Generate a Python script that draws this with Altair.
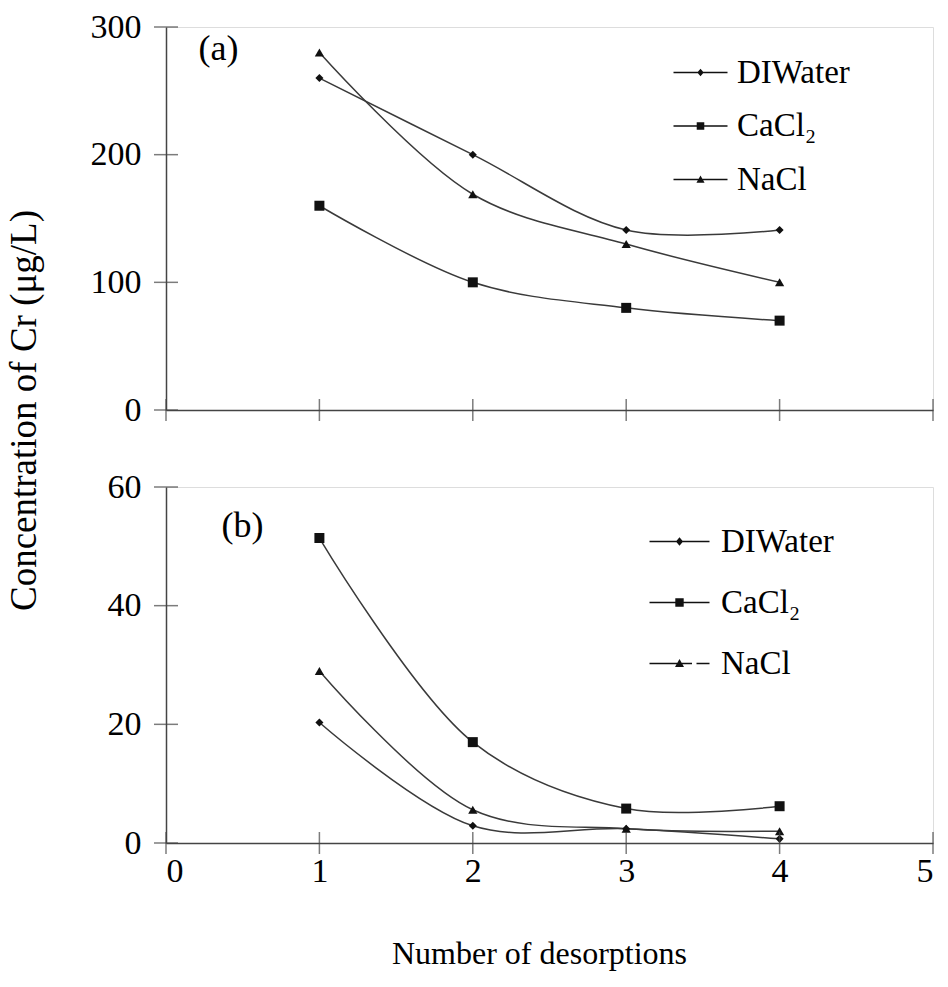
import altair as alt
import pandas as pd

# ---------------- data ----------------
desorptions = [1, 2, 3, 4]
series_names = ["DIWater", "CaCl₂", "NaCl"]

a_diwater = [260, 200, 141, 141]
a_cacl2 = [160, 100, 80, 70]
a_nacl = [280, 169, 130, 100]

b_diwater = [20.3, 2.9, 2.4, 0.7]
b_cacl2 = [51.4, 17.0, 5.8, 6.2]
b_nacl = [29.0, 5.6, 2.4, 2.0]

x_ticks = [0, 1, 2, 3, 4, 5]
a_y_ticks = [0, 100, 200, 300]
b_y_ticks = [0, 20, 40, 60]

FONT = "Liberation Serif"
AX = "#444444"
LINE = "#3a3a3a"
INK = "#111111"

marker_style = {
    "DIWater": ("diamond", 65),
    "CaCl₂": ("square", 100),
    "NaCl": ("triangle-up", 85),
}

# legend glyphs: a thin filled bar (the line) plus the marker
BAR = "M-3,-0.07L3,-0.07L3,0.07L-3,0.07Z"
BAR_DASHED = ("M-3,-0.07L0,-0.07L0,0.07L-3,0.07Z"
              "M0,-0.07L1.25,-0.07L1.25,0.07L0,0.07Z"
              "M1.7,-0.07L3,-0.07L3,0.07L1.7,0.07Z")
DIAMOND = "M0,-0.42L0.36,0L0,0.42L-0.36,0Z"
SQUARE = "M-0.42,-0.42L0.42,-0.42L0.42,0.42L-0.42,0.42Z"
TRIANGLE = "M0,-0.45L0.45,0.35L-0.45,0.35Z"
legend_paths_a = [BAR + DIAMOND, BAR + SQUARE, BAR + TRIANGLE]
legend_paths_b = [BAR + DIAMOND, BAR + SQUARE, BAR_DASHED + TRIANGLE]


def long_table(di, ca, na):
    rows = []
    for name, vals in zip(series_names, [di, ca, na]):
        for x, v in zip(desorptions, vals):
            rows.append({"x": x, "value": v, "series": name})
    return pd.DataFrame(rows)


common_axis = dict(domainColor=AX, domainWidth=1.5, grid=False,
                   ticks=False, tickSize=0, labelFont=FONT,
                   labelFontSize=34, labelColor="black",
                   titleFont=FONT, titleFontWeight="normal",
                   titleColor="black")


def panel(df, ymax, yticks, xaxis, yaxis, paths, lx, ly, row_pad, sym_size,
          lab_off, height):
    xs = alt.Scale(domain=[0, 5], nice=False, zero=False)
    ys = alt.Scale(domain=[0, ymax], nice=False)

    base = alt.Chart(df)
    line = base.mark_line(interpolate="catmull-rom", color=LINE,
                          strokeWidth=1.5).encode(
        x=alt.X("x:Q", scale=xs, axis=xaxis),
        y=alt.Y("value:Q", scale=ys, axis=yaxis),
        detail="series:N",
    )
    points = []
    for name, (shp, sz) in marker_style.items():
        points.append(
            base.transform_filter(alt.datum.series == name)
            .mark_point(shape=shp, size=sz, filled=True, color=INK,
                        opacity=1)
            .encode(x="x:Q", y="value:Q")
        )
    xt = alt.Chart(pd.DataFrame({"x": x_ticks})).mark_tick(
        orient="vertical", size=22, thickness=1.5, color=AX
    ).encode(x="x:Q", y=alt.datum(0))
    yt = alt.Chart(pd.DataFrame({"value": yticks})).mark_tick(
        orient="horizontal", size=24, thickness=1.5, color=AX
    ).encode(y="value:Q", x=alt.datum(0))
    leg = base.transform_filter("false").mark_point(
        filled=True, color=INK, opacity=1
    ).encode(
        shape=alt.Shape(
            "series:N",
            scale=alt.Scale(domain=series_names, range=paths),
            legend=alt.Legend(
                orient="none", legendX=lx, legendY=ly, title=None,
                labelFont=FONT, labelFontSize=33, labelColor="black",
                rowPadding=row_pad, symbolSize=sym_size,
                labelOffset=lab_off, padding=0, labelLimit=400,
                symbolFillColor="#222222", labelBaseline="middle",
            ),
        ),
    )
    return alt.layer(line, *points, xt, yt, leg).properties(
        width=767, height=height)


top_x_axis = alt.Axis(values=x_ticks, labels=False, title="(a)",
                      titleFontSize=36, titleX=32, titleY=-362,
                      titleAlign="left", titleBaseline="middle",
                      **common_axis)
top_y_axis = alt.Axis(values=a_y_ticks, labelPadding=25,
                      title="Concentration of Cr (μg/L)", titleFontSize=37,
                      titleX=-142, titleY=383, titleAngle=-90,
                      titleAlign="center", titleBaseline="middle",
                      **common_axis)
bot_x_axis = alt.Axis(values=x_ticks, format="d", labelPadding=11,
                      title="Number of desorptions", titleFontSize=32,
                      titlePadding=50, titleX=373, titleAlign="center",
                      **common_axis)
bot_y_axis = alt.Axis(values=b_y_ticks, labelPadding=25, title="(b)",
                      titleFontSize=36, titleX=55, titleY=38, titleAngle=0,
                      titleAlign="left", titleBaseline="middle",
                      **common_axis)

top = panel(long_table(a_diwater, a_cacl2, a_nacl), 300, a_y_ticks,
            top_x_axis, top_y_axis, legend_paths_a, 518, 29, 19.5, 324, 20,
            383)
bottom = panel(long_table(b_diwater, b_cacl2, b_nacl), 60, b_y_ticks,
               bot_x_axis, bot_y_axis, legend_paths_b, 497, 38, 27, 400, 25,
               356)

chart = alt.vconcat(top, bottom, spacing=77, bounds="flush").resolve_scale(
    shape="independent"
).resolve_legend(shape="independent").properties(
    padding={"left": 4, "top": 9, "right": 5, "bottom": 5}
).configure_view(stroke=None).configure(background="white")

chart.save("out.html", embed_options={"renderer": "svg", "actions": False})
